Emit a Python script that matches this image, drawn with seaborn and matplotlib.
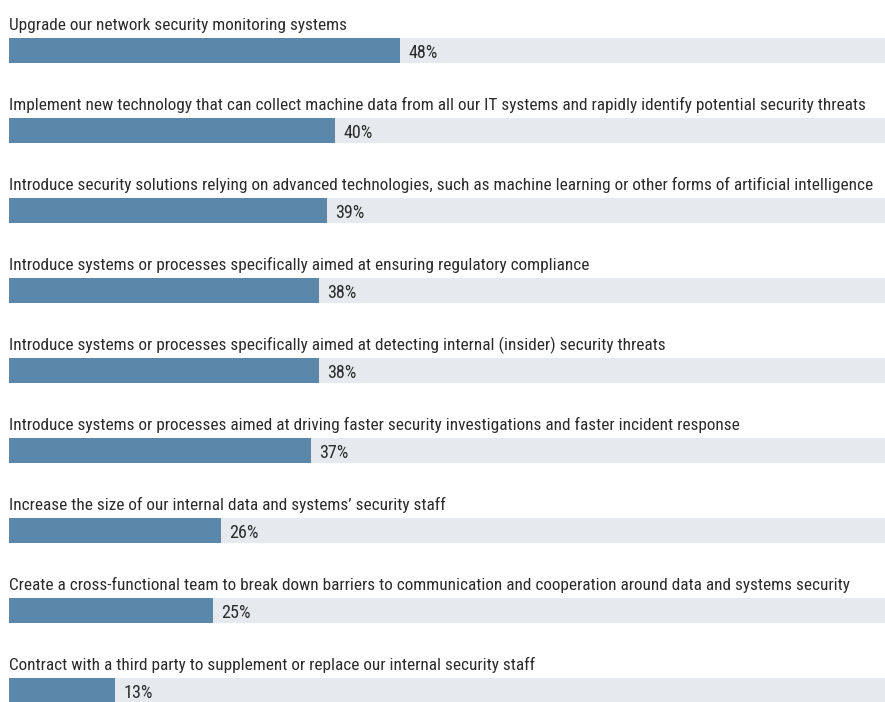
import matplotlib
matplotlib.use("Agg")
import matplotlib.pyplot as plt
from matplotlib import font_manager
import seaborn as sns
import pandas as pd

categories = [
    "Upgrade our network security monitoring systems",
    "Implement new technology that can collect machine data from all our IT systems and rapidly identify potential security threats",
    "Introduce security solutions relying on advanced technologies, such as machine learning or other forms of artificial intelligence",
    "Introduce systems or processes specifically aimed at ensuring regulatory compliance",
    "Introduce systems or processes specifically aimed at detecting internal (insider) security threats",
    "Introduce systems or processes aimed at driving faster security investigations and faster incident response",
    "Increase the size of our internal data and systems\u2019 security staff",
    "Create a cross-functional team to break down barriers to communication and cooperation around data and systems security",
    "Contract with a third party to supplement or replace our internal security staff",
]
values = [48, 40, 39, 38, 38, 37, 26, 25, 13]

BAR = "#5b87ab"
TRACK = "#e6e9ed"
TEXT = "#2b2b2b"
XMAX = 107.5

# Prefer a narrow face if one is installed
fonts = font_manager.fontManager.ttflist
family, stretch = "Roboto", "normal"
for f in fonts:
    if f.name in ("Liberation Sans Narrow", "Roboto Condensed", "Open Sans Condensed"):
        family, stretch = f.name, "normal"
        break
else:
    for f in fonts:
        if f.name == "DejaVu Sans" and str(f.stretch) in ("condensed", "semi-condensed", "600", "700", "500"):
            family, stretch = "DejaVu Sans", "condensed"
            break

sns.set_theme(style="white")
plt.rcParams["font.family"] = [family, "DejaVu Sans"]

df = pd.DataFrame({"item": categories, "pct": values})
df["track"] = XMAX

fig = plt.figure(figsize=(8.85, 7.02), dpi=100)
ax = fig.add_axes([9 / 885, 0, 876 / 885, 1])

sns.barplot(data=df, y="item", x="track", color=TRACK, width=0.3125,
            orient="h", ax=ax, saturation=1, linewidth=0)
sns.barplot(data=df, y="item", x="pct", color=BAR, width=0.3125,
            orient="h", ax=ax, saturation=1, linewidth=0)

ax.set_xlim(0, XMAX)
ax.set_ylim(8.144, -0.631)
ax.axis("off")

# Size the text so the widest label just fits the row width
renderer = fig.canvas.get_renderer()


def widest_at(fs):
    best = 0
    for label in categories:
        probe = ax.text(0, 0, label, fontsize=fs, fontstretch=stretch)
        best = max(best, probe.get_window_extent(renderer).width)
        probe.remove()
    return best


size = 12.0
for _ in range(4):
    size *= 866 / widest_at(size)
while widest_at(size) > 870:
    size -= 0.1

for i, (label, v) in enumerate(zip(categories, values)):
    ax.text(0, i - 0.256, label, ha="left", va="baseline",
            fontsize=size, fontstretch=stretch, color=TEXT)
    ax.text(v + 1.0, i + 0.03, f"{v}%", ha="left", va="center",
            fontsize=size * 1.05, fontstretch=stretch, color=TEXT)

fig.savefig("out.png", dpi=100)
